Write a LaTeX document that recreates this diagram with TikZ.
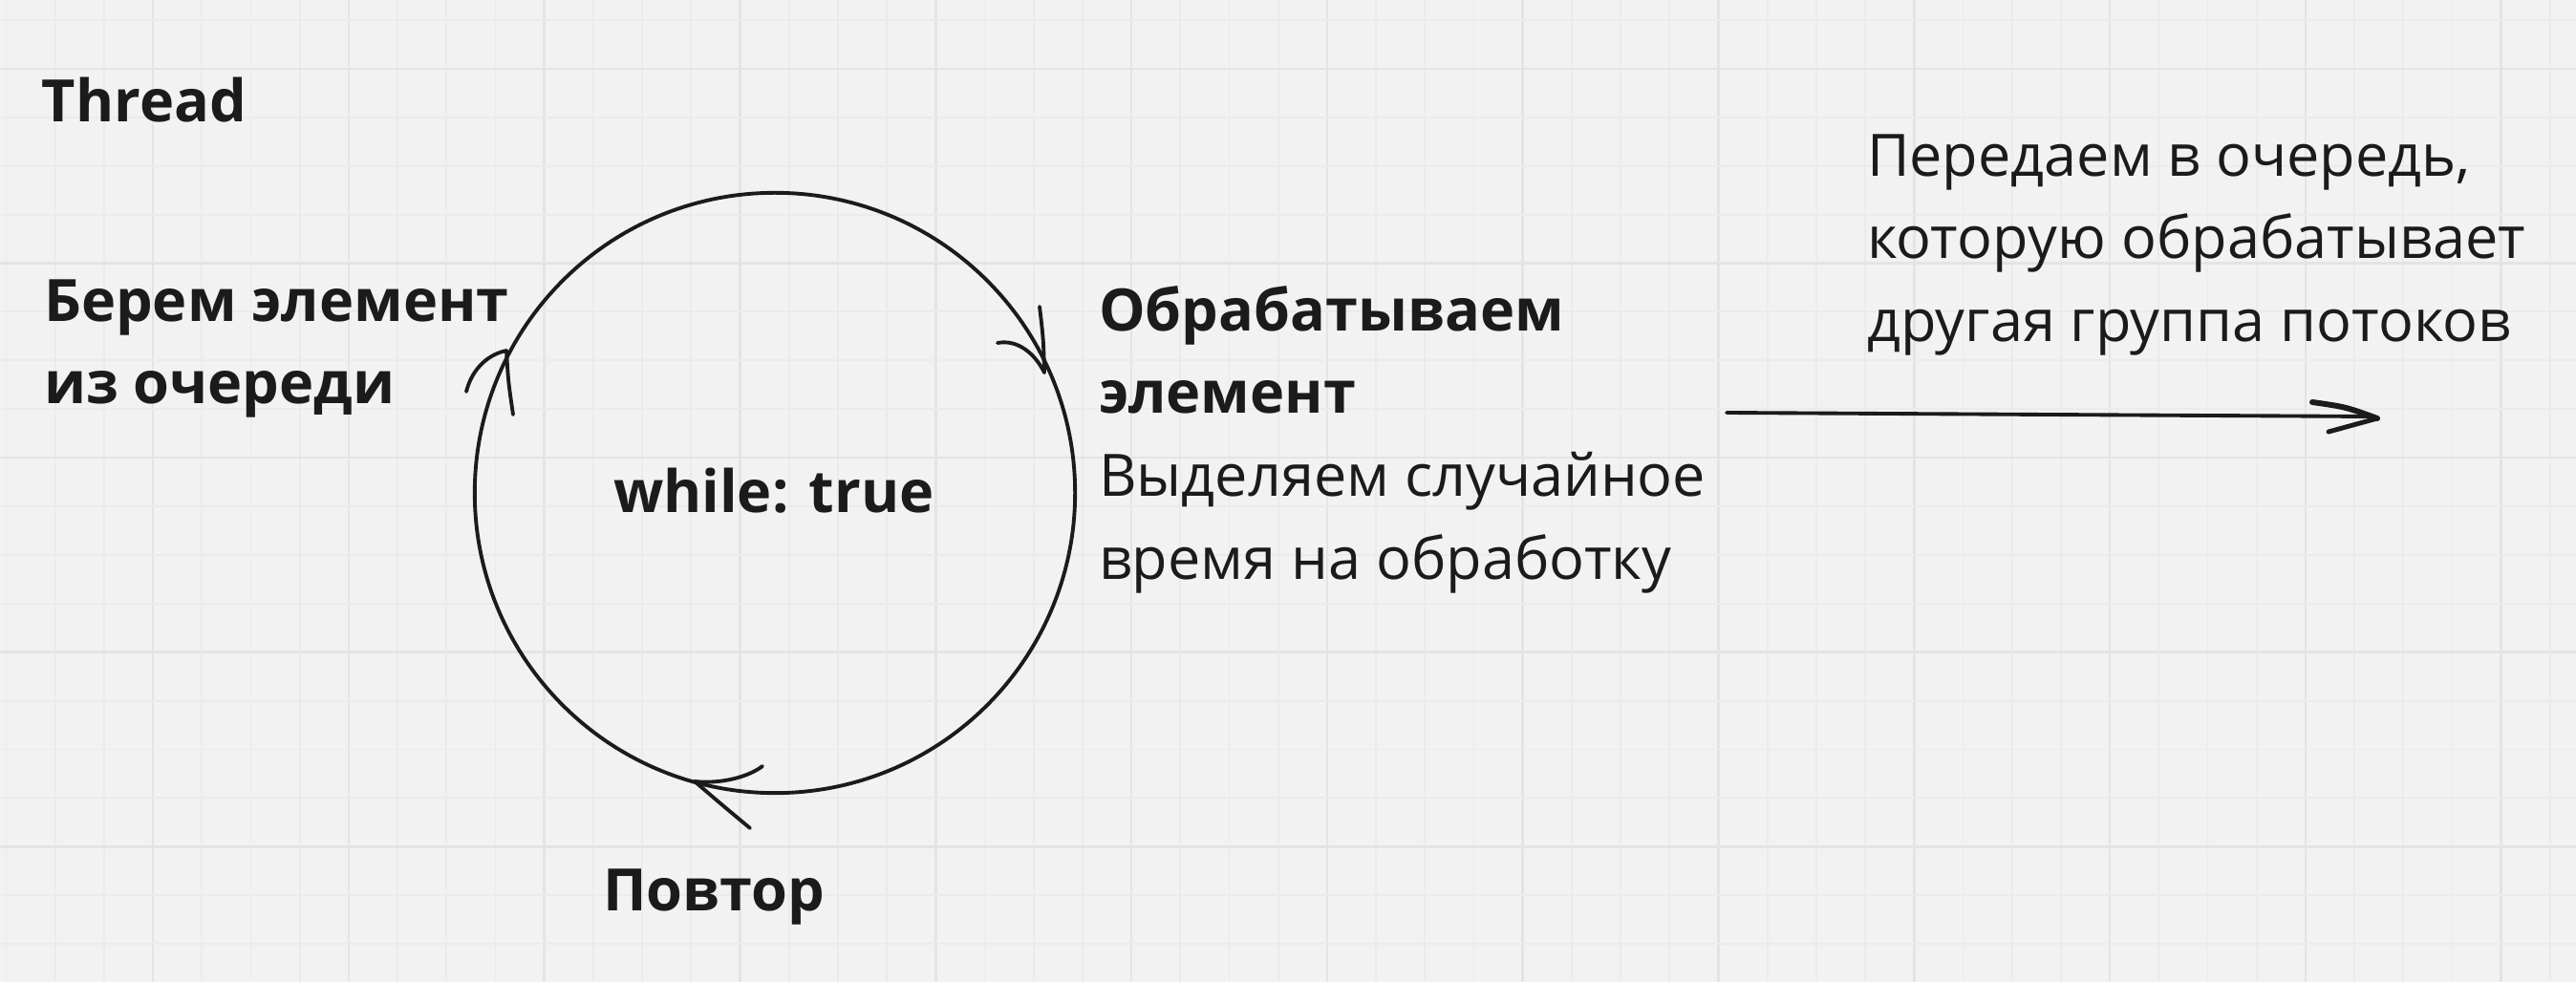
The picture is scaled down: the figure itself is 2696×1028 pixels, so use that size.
\documentclass[tikz,border=0pt]{standalone}
\usepackage{fontspec}
\setmainfont{Open Sans}
\definecolor{bg}{HTML}{F2F2F2}
\definecolor{gridminor}{HTML}{EBEBEB}
\definecolor{gridmajor}{HTML}{E4E4E4}
\definecolor{ink}{HTML}{1B1B1B}
\begin{document}
\begin{tikzpicture}[x=0.01cm,y=-0.01cm,
  lbl/.style={inner sep=0pt, outer sep=0pt, anchor=base west, text=ink, font=\fontsize{17.4pt}{24pt}\selectfont},
  blbl/.style={lbl, font=\fontsize{17.4pt}{24pt}\selectfont\bfseries},
  stroke/.style={draw=ink, line width=1.1pt, line cap=round, line join=round},
  heavy stroke/.style={draw=ink, line width=1.7pt, line cap=round, line join=round}]
\useasboundingbox (0,0) rectangle (2696,1028);
\fill[bg] (0,0) rectangle (2696,1028);
% grid
\foreach \i in {0,...,52} {
  \pgfmathsetmacro{\gx}{6.5+51.2*\i}
  \pgfmathtruncatemacro{\m}{mod(\i,4)}
  \ifnum\m=3
    \draw[gridmajor, line width=0.7pt] (\gx,0) -- (\gx,1028);
  \else
    \draw[gridminor, line width=0.55pt] (\gx,0) -- (\gx,1028);
  \fi
}
\foreach \j in {0,...,20} {
  \pgfmathsetmacro{\gy}{21+50.9*\j}
  \pgfmathtruncatemacro{\m}{mod(\j,4)}
  \ifnum\m=1
    \draw[gridmajor, line width=0.7pt] (0,\gy) -- (2696,\gy);
  \else
    \draw[gridminor, line width=0.55pt] (0,\gy) -- (2696,\gy);
  \fi
}
% texts
\node[blbl] (thread) at (44,128) {Thread};
\node[blbl] (take1) at (46,337) {Берем элемент};
\node[blbl] (take2) at (46,423) {из очереди};
\node[blbl] (proc1) at (1150,347) {Обрабатываем};
\node[blbl] (proc2) at (1150,433) {элемент};
\node[lbl] (proc3) at (1150,520) {Выделяем случайное};
\node[lbl] (proc4) at (1150,607) {время на обработку};
\node[lbl] (pass1) at (1954,185) {Передаем в очередь,};
\node[lbl] (pass2) at (1954,271) {которую обрабатывает};
\node[lbl] (pass3) at (1954,358) {другая группа потоков};
\node[blbl] (rep) at (631,954) {Повтор};
\node[blbl] (wt) at (642,537) {while: true};
% loop circle
\node[circle, stroke, minimum size=6.28cm, inner sep=0pt] (loop) at (811,516) {};
% arrowheads on the loop
\coordinate (h1) at (530,367);
\draw[stroke] (h1) .. controls (507,372) and (493,390) .. (488,410);
\draw[stroke] (h1) .. controls (532,400) .. (537,434);
\coordinate (h2) at (1093,390);
\draw[stroke] (1044,359) .. controls (1065,355) and (1083,370) .. (h2);
\draw[stroke] (1088,321) .. controls (1092,355) .. (h2);
\coordinate (h3) at (727,818);
\draw[stroke] (h3) .. controls (755,821) and (784,813) .. (798,802);
\draw[stroke] (h3) .. controls (755,842) .. (785,867);
% outgoing arrow
\coordinate (qs) at (1807,432);
\coordinate (qe) at (2488,438);
\draw[stroke] (qs) -- (2480,436);
\draw[heavy stroke] (2420,421) .. controls (2455,426) .. (qe);
\draw[stroke, line width=1.4pt] (qe) -- (2437,452);
\end{tikzpicture}
\end{document}
